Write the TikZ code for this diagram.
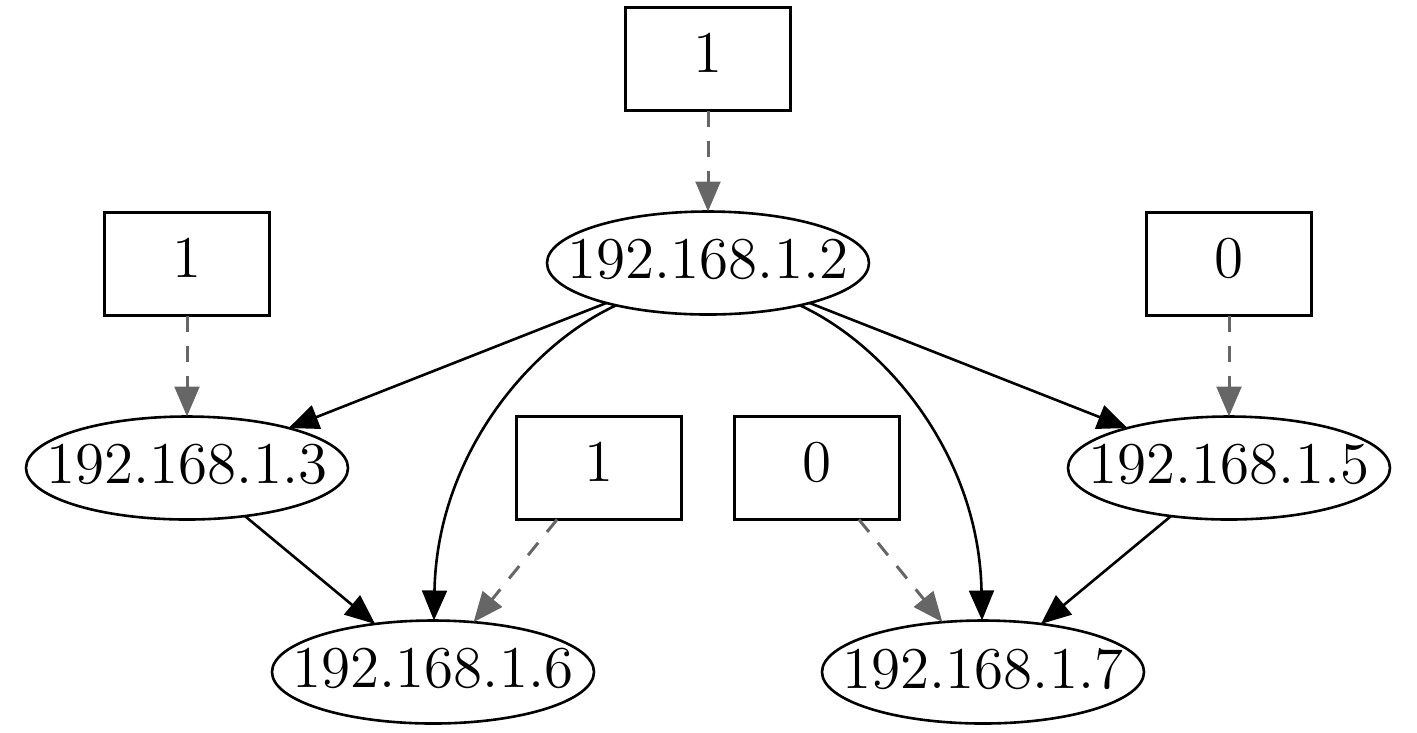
\documentclass[tikz,border=0pt]{standalone}
\usetikzlibrary{shapes.geometric,arrows.meta}
\definecolor{votegray}{HTML}{666666}
\begin{document}
\begin{tikzpicture}[x=0.25pt,y=-0.25pt,
  lblfont/.style={font=\fontsize{14.8}{17}\selectfont},
  valbox/.style={draw, rectangle, line width=0.7pt, minimum width=41.25pt, minimum height=25.75pt,
    inner sep=0pt, outer sep=0pt, lblfont, text depth=3pt},
  ipnode/.style={draw, ellipse, line width=0.65pt, minimum width=80.5pt, minimum height=25.75pt,
    inner sep=0pt, outer sep=0pt, lblfont, text depth=2pt},
  link/.style={line width=0.65pt, -{Triangle[length=7.5pt,width=6.2pt]}},
  vote/.style={line width=0.75pt, draw=votegray, dash pattern=on 4pt off 3.5pt,
    -{Triangle[length=7.5pt,width=6.2pt,color=votegray,fill=votegray]}}]
\useasboundingbox (0,0) rectangle (1417,732);
% value boxes
\node[valbox] (b1) at (708,59)  {1};
\node[valbox] (b3) at (187,264) {1};
\node[valbox] (b5) at (1229,264) {0};
\node[valbox] (b6) at (599,468) {1};
\node[valbox] (b7) at (817,468) {0};
% ip nodes
\node[ipnode] (n2) at (708,263) {\makebox[0pt]{192.168.1.2}};
\node[ipnode] (n3) at (187,468) {\makebox[0pt]{192.168.1.3}};
\node[ipnode] (n5) at (1229,468) {\makebox[0pt]{192.168.1.5}};
\node[ipnode] (n6) at (433,672) {\makebox[0pt]{192.168.1.6}};
\node[ipnode] (n7) at (983,672) {\makebox[0pt]{192.168.1.7}};
% dashed value edges
\draw[vote] (b1) -- (n2);
\draw[vote] (b3) -- (n3);
\draw[vote] (b5) -- (n5);
\draw[vote] (b6) -- (n6);
\draw[vote] (b7) -- (n7);
% links
\draw[link] (n2) -- (n3);
\draw[link] (n2) -- (n5);
\draw[link] (n2) .. controls (530,345) and (437,455) .. (n6);
\draw[link] (n2) .. controls (886,345) and (979,455) .. (n7);
\draw[link] (n3) -- (n6);
\draw[link] (n5) -- (n7);
\end{tikzpicture}
\end{document}
